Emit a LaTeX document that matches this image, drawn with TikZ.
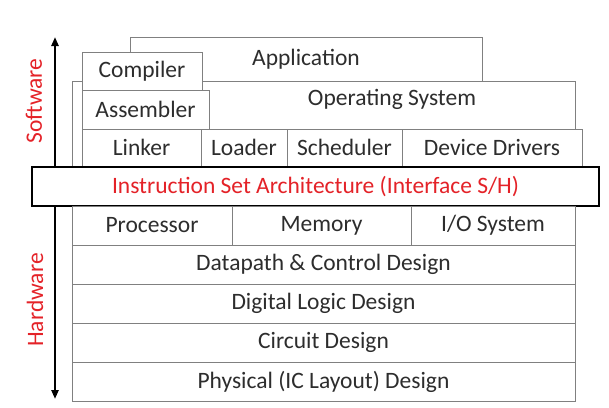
\documentclass[tikz,border=0pt]{standalone}
\usepackage{fontspec}
\setmainfont{Carlito}
\usepackage{tikz}
\usetikzlibrary{arrows.meta,positioning}
\definecolor{isared}{RGB}{228,34,40}
\definecolor{boxgray}{RGB}{128,128,128}
\definecolor{txtgray}{RGB}{45,45,45}

\begin{document}
\begin{tikzpicture}[
        x=1pt, y=-1pt,
        layer/.style={draw=boxgray, line width=1pt, fill=white,
                      inner sep=0pt, outer sep=0pt,
                      font=\fontsize{23.5}{28}\selectfont, text=txtgray},
        wide/.style={layer, minimum width=503pt, minimum height=39pt},
        isa/.style={layer, draw=black, line width=2.5pt,
                    minimum width=567pt, minimum height=39pt, text=isared},
        side/.style={rotate=90, font=\fontsize{23.5}{28}\selectfont, text=isared},
        updown/.style={-{Triangle[length=9pt, width=7pt]}, line width=2.5pt, black}
      ]
        \useasboundingbox (0,0) rectangle (609,407);
        % software stack
        \node[layer, minimum width=352pt, minimum height=44pt] (app) at (306,59) {Application};
        \node[layer, minimum width=503pt, minimum height=85pt] (os) at (323.5,123.5) {};
        \node[font=\fontsize{23.5}{28}\selectfont, text=txtgray] (oslbl) at (392,99) {Operating System};
        \node[layer, minimum width=120pt, minimum height=38pt] (comp) at (142,71) {Compiler};
        \node[layer, minimum width=127pt, minimum height=39pt] (asm) at (145.5,109.5) {Assembler};
        \node[layer, minimum width=119pt, minimum height=37pt] (link) at (141.5,147.5) {Linker};
        \node[layer, minimum width=86pt, minimum height=37pt, right=0pt of link] (load) {Loader};
        \node[layer, minimum width=115pt, minimum height=37pt, right=0pt of load] (sched) {Scheduler};
        \node[layer, minimum width=180pt, minimum height=37pt, right=0pt of sched] (drv) {Device Drivers};
        % interface
        \node[isa] (isa) at (315.5,186.5) {Instruction Set Architecture (Interface S/H)};
        % hardware stack
        \node[layer, minimum width=160pt, minimum height=39pt] (proc) at (152,225.5) {Processor};
        \node[layer, minimum width=179pt, minimum height=39pt, right=0pt of proc] (mem) {Memory};
        \node[layer, minimum width=164pt, minimum height=39pt, right=0pt of mem] (io) {I/O System};
        \node[wide] (dp) at (323.5,264.5) {Datapath \& Control Design};
        \node[wide, below=0pt of dp] (dl) {Digital Logic Design};
        \node[wide, below=0pt of dl] (cir) {Circuit Design};
        \node[wide, below=0pt of cir] (phy) {Physical (IC Layout) Design};
        % side arrows
        \coordinate (swbot) at (55,167);
        \coordinate (swtop) at (55,37);
        \coordinate (hwtop) at (55,206);
        \coordinate (hwbot) at (55,399);
        \draw[updown] (swbot) -- (swtop);
        \draw[updown] (hwtop) -- (hwbot);
        \node[side] (sw) at (34,101) {Software};
        \node[side] (hw) at (35,300) {Hardware};
      \end{tikzpicture}
\end{document}
